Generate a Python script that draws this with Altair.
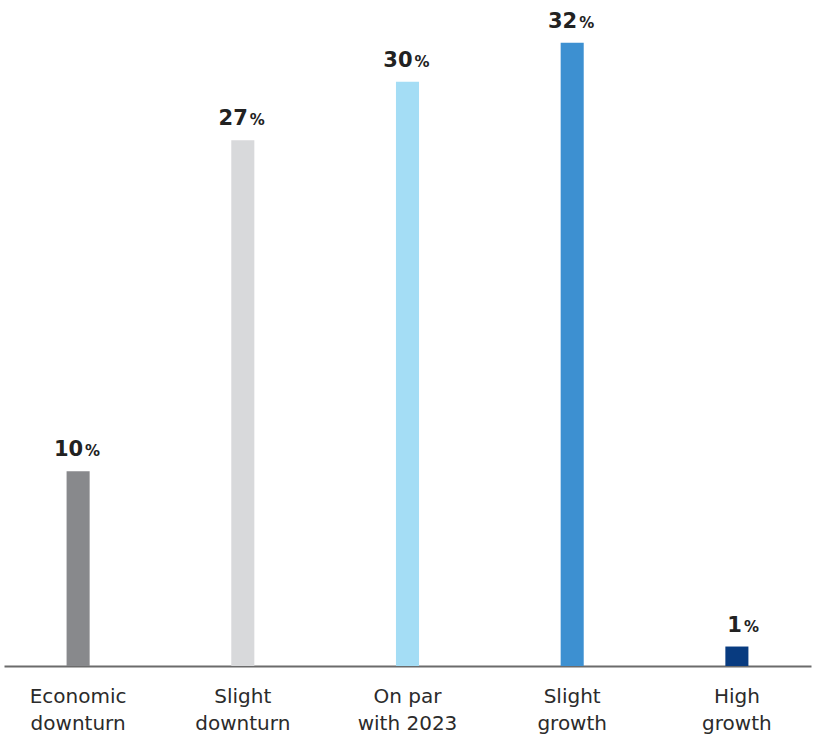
import altair as alt
import pandas as pd

categories = ["Economic downturn", "Slight downturn", "On par with 2023", "Slight growth", "High growth"]
values = [10, 27, 30, 32, 1]
colors = ["#88898c", "#d8d9db", "#a4ddf5", "#3d90d1", "#083b80"]

df = pd.DataFrame({"cat": categories, "val": values, "col": colors})
df["num"] = df["val"].astype(str)
df["pct"] = "%"

FONT = "DejaVu Sans"

x = alt.X("cat:N", sort=categories,
          scale=alt.Scale(paddingInner=0.86, paddingOuter=0.38),
          axis=alt.Axis(title=None, labelAngle=0, ticks=False, domain=True,
                        domainColor="#6b6b6b", domainWidth=2,
                        labelFont=FONT, labelFontSize=20, labelColor="#2b2b2b",
                        labelPadding=36, labelLineHeight=27, labelBaseline="alphabetic",
                        labelExpr="datum.value == 'On par with 2023' ? ['On par', 'with 2023'] : split(datum.value, ' ')"))
y = alt.Y("val:Q", scale=alt.Scale(domain=[0, 34.2], nice=False, zero=True),
          axis=None)

base = alt.Chart(df)

bars = base.mark_bar().encode(
    x=x, y=y,
    color=alt.Color("col:N", scale=None, legend=None),
)

num = base.mark_text(align="right", baseline="alphabetic", dx=5, dy=-15,
                     font=FONT, fontSize=21, fontWeight="bold", color="#222222").encode(
    x=alt.X("cat:N", sort=categories), y="val:Q", text="num:N")
pct = base.mark_text(align="left", baseline="alphabetic", dx=7, dy=-15,
                     font=FONT, fontSize=15, fontWeight="bold", color="#222222").encode(
    x=alt.X("cat:N", sort=categories), y="val:Q", text="pct:N")

chart = alt.layer(bars, num, pct).properties(
    width=807, height=666,
    padding={"left": 4, "top": 0, "right": 4, "bottom": 69},
    autosize=alt.AutoSizeParams(type="none"),
    background="white",
).configure_view(stroke=None)

chart.save("out.html", embed_options={"renderer": "svg", "actions": False})
